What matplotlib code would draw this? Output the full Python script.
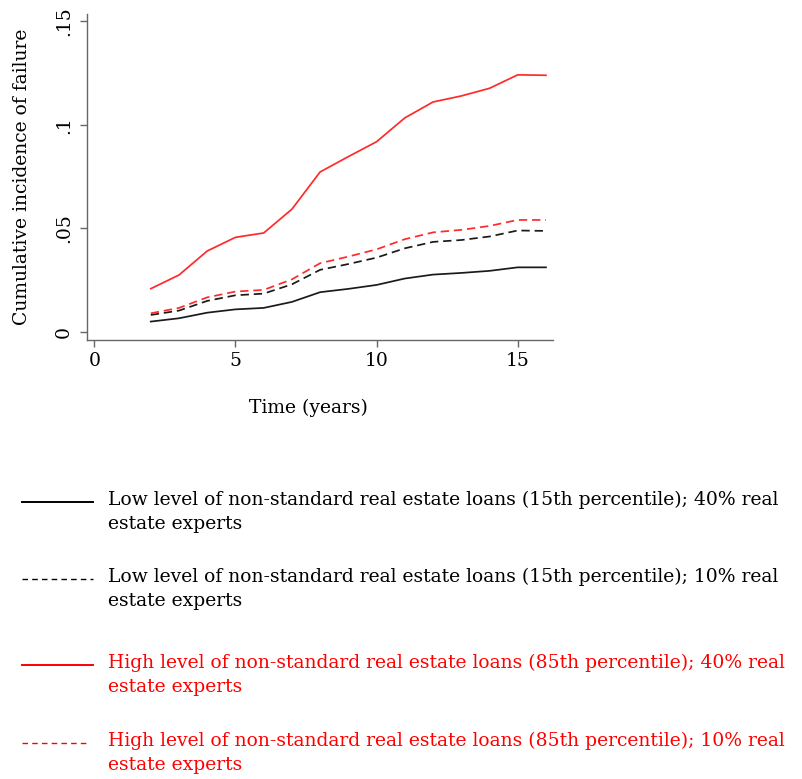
import matplotlib
matplotlib.use("Agg")
import matplotlib.pyplot as plt
from matplotlib.lines import Line2D

plt.rcParams['font.family'] = ['DejaVu Serif']
plt.rcParams['lines.scale_dashes'] = False

years = [2, 3, 4, 5, 6, 7, 8, 9, 10, 11, 12, 13, 14, 15, 16]
low_40 = [0.0050, 0.0066, 0.0093, 0.0109, 0.0116, 0.0145, 0.0192, 0.0208, 0.0227,
          0.0258, 0.0277, 0.0285, 0.0295, 0.0312, 0.0312]
low_10 = [0.0082, 0.0103, 0.0150, 0.0177, 0.0185, 0.0230, 0.0300, 0.0328, 0.0359,
          0.0404, 0.0435, 0.0444, 0.0461, 0.0490, 0.0488]
high_40 = [0.0209, 0.0275, 0.0391, 0.0457, 0.0478, 0.0593, 0.0773, 0.0847, 0.0919,
           0.1034, 0.1111, 0.1140, 0.1177, 0.1242, 0.1240]
high_10 = [0.0090, 0.0116, 0.0167, 0.0195, 0.0203, 0.0254, 0.0332, 0.0364, 0.0399,
           0.0448, 0.0481, 0.0493, 0.0512, 0.0541, 0.0541]

labels = [
    "Low level of non-standard real estate loans (15th percentile); 40% real\nestate experts",
    "Low level of non-standard real estate loans (15th percentile); 10% real\nestate experts",
    "High level of non-standard real estate loans (85th percentile); 40% real\nestate experts",
    "High level of non-standard real estate loans (85th percentile); 10% real\nestate experts",
]
xticks = [0, 5, 10, 15]
yticks = [0, 0.05, 0.10, 0.15]
yticklabels = ["0", ".05", ".1", ".15"]

W, H = 802, 779
fig = plt.figure(figsize=(W / 100, H / 100), dpi=100)
ax = fig.add_axes([86.7 / W, 1 - 340 / H, (553 - 86.7) / W, (340 - 14) / H])

black = "#1a1a1a"
red = "#ff2a2a"
series = [
    (low_40, black, (None)),
    (low_10, black, (6, 3.5)),
    (high_40, red, (None)),
    (high_10, red, (6, 3.5)),
]
for vals, col, dash in series:
    ln, = ax.plot(years, vals, color=col, lw=1.25)
    if dash is not None:
        ln.set_dashes(dash)

ax.set_xlim(-0.27, 16.25)
ax.set_ylim(-0.0039, 0.1536)
ax.set_xticks(xticks)
ax.set_xticklabels([str(t) for t in xticks])
ax.set_yticks(yticks)
ax.set_yticklabels(yticklabels, rotation=90, va='center')
for s in ['top', 'right']:
    ax.spines[s].set_visible(False)
for s in ['left', 'bottom']:
    ax.spines[s].set_color('#666666')
    ax.spines[s].set_linewidth(1.0)
ax.tick_params(axis='both', colors='#666666', labelcolor='black', labelsize=13.5,
               length=5, width=1.0)
ax.tick_params(axis='y', pad=5)
ax.tick_params(axis='x', pad=4)

ax.set_xlabel("Time (years)", fontsize=13.5)
ax.xaxis.set_label_coords((308 - 86.7) / (553 - 86.7), (340 - 408) / 326)
ax.xaxis.label.set_va('center')
ax.set_ylabel("Cumulative incidence of failure", fontsize=13.5)
ax.yaxis.set_label_coords((22 - 86.7) / (553 - 86.7), 0.5)
ax.yaxis.label.set_va('center')

# Legend (manual, Stata-style)
row_y = [502, 579, 665, 743]
handle_end = [93, 93, 93, 86]
colors = ["black", "black", "#ff0000", "#ff0000"]
ldash = [None, (4, 3), None, (4, 3)]
for i, lab in enumerate(labels):
    y = 1 - row_y[i] / H
    ln = Line2D([22 / W, handle_end[i] / W], [y, y], transform=fig.transFigure,
                color=colors[i], lw=1.4)
    if ldash[i] is not None:
        ln.set_dashes(ldash[i])
        ln.set_linewidth(1.0)
    fig.add_artist(ln)
    fig.text(108 / W, y + 11 / H, lab, color=colors[i], fontsize=13.5,
             va='top', ha='left', linespacing=1.4)

fig.savefig("out.png", dpi=100)
